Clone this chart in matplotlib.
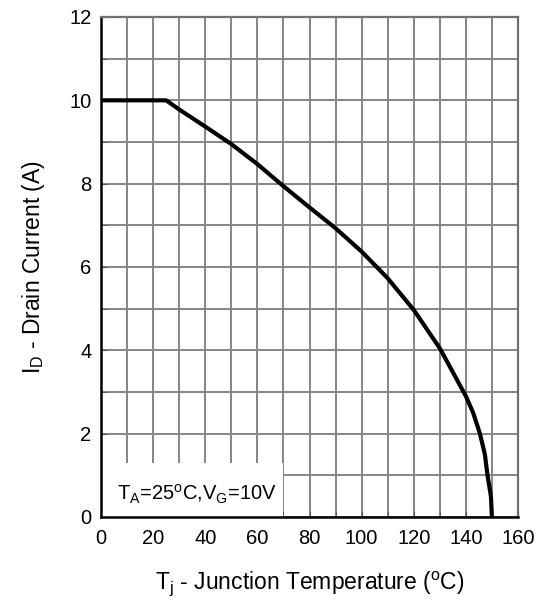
import matplotlib
matplotlib.use('Agg')
import matplotlib.pyplot as plt
from matplotlib.patches import Rectangle
from matplotlib.ticker import MultipleLocator

plt.rcParams['font.family'] = ['Liberation Sans', 'DejaVu Sans']
plt.rcParams['mathtext.fontset'] = 'custom'
plt.rcParams['mathtext.rm'] = 'Liberation Sans'

# derating curve
temp_c = [0, 25, 30, 40, 50, 60, 70, 80, 90, 100, 110, 120, 130, 140,
          142.8, 145.4, 147.3, 148.3, 149.6, 150]
drain_a = [10, 10, 9.78, 9.37, 8.95, 8.47, 7.94, 7.43, 6.93, 6.37, 5.73, 4.97, 4.05, 2.9,
           2.5, 2.0, 1.5, 1.0, 0.5, 0]

x_ticks = [0, 20, 40, 60, 80, 100, 120, 140, 160]
y_ticks = [0, 2, 4, 6, 8, 10, 12]

fig = plt.figure(figsize=(5.44, 6.03), dpi=100)
ax = fig.add_axes([101 / 544, 1 - 517 / 603, 417 / 544, 500 / 603])

ax.set_xlim(0, 160)
ax.set_ylim(0, 12)
ax.set_xticks(x_ticks)
ax.set_yticks(y_ticks)
ax.xaxis.set_minor_locator(MultipleLocator(10))
ax.yaxis.set_minor_locator(MultipleLocator(1))
ax.grid(which='both', color='#858585', linewidth=1.4, zorder=1)
ax.tick_params(which='both', direction='in', length=4, color='#555555', labelsize=14.5)
ax.tick_params(axis='x', pad=9)
ax.tick_params(axis='y', pad=7)
ax.set_axisbelow(True)

for s in ['left', 'bottom']:
    ax.spines[s].set_color('black')
    ax.spines[s].set_linewidth(1.8)
for s in ['top', 'right']:
    ax.spines[s].set_color('#707070')
    ax.spines[s].set_linewidth(1.6)

ax.plot(temp_c, drain_a, color='black', linewidth=3, solid_capstyle='butt',
        solid_joinstyle='round', zorder=4)

# white box behind the condition text
ax.add_patch(Rectangle((0, 0), 70, 1.3, facecolor='white', edgecolor='none', zorder=2))
ax.text(6, 0.55, r'T$_\mathregular{A}$=25$^\mathregular{o}$C,V$_\mathregular{G}$=10V',
        fontsize=14.5, va='center', ha='left', zorder=3)

ax.set_xlabel(r'T$_\mathregular{j}$ - Junction Temperature ($^\mathregular{o}$C)',
              fontsize=16.5, labelpad=15)
ax.set_ylabel(r'I$_\mathregular{D}$ - Drain Current (A)', fontsize=16.5, labelpad=16)

fig.savefig('out.png', dpi=100)
